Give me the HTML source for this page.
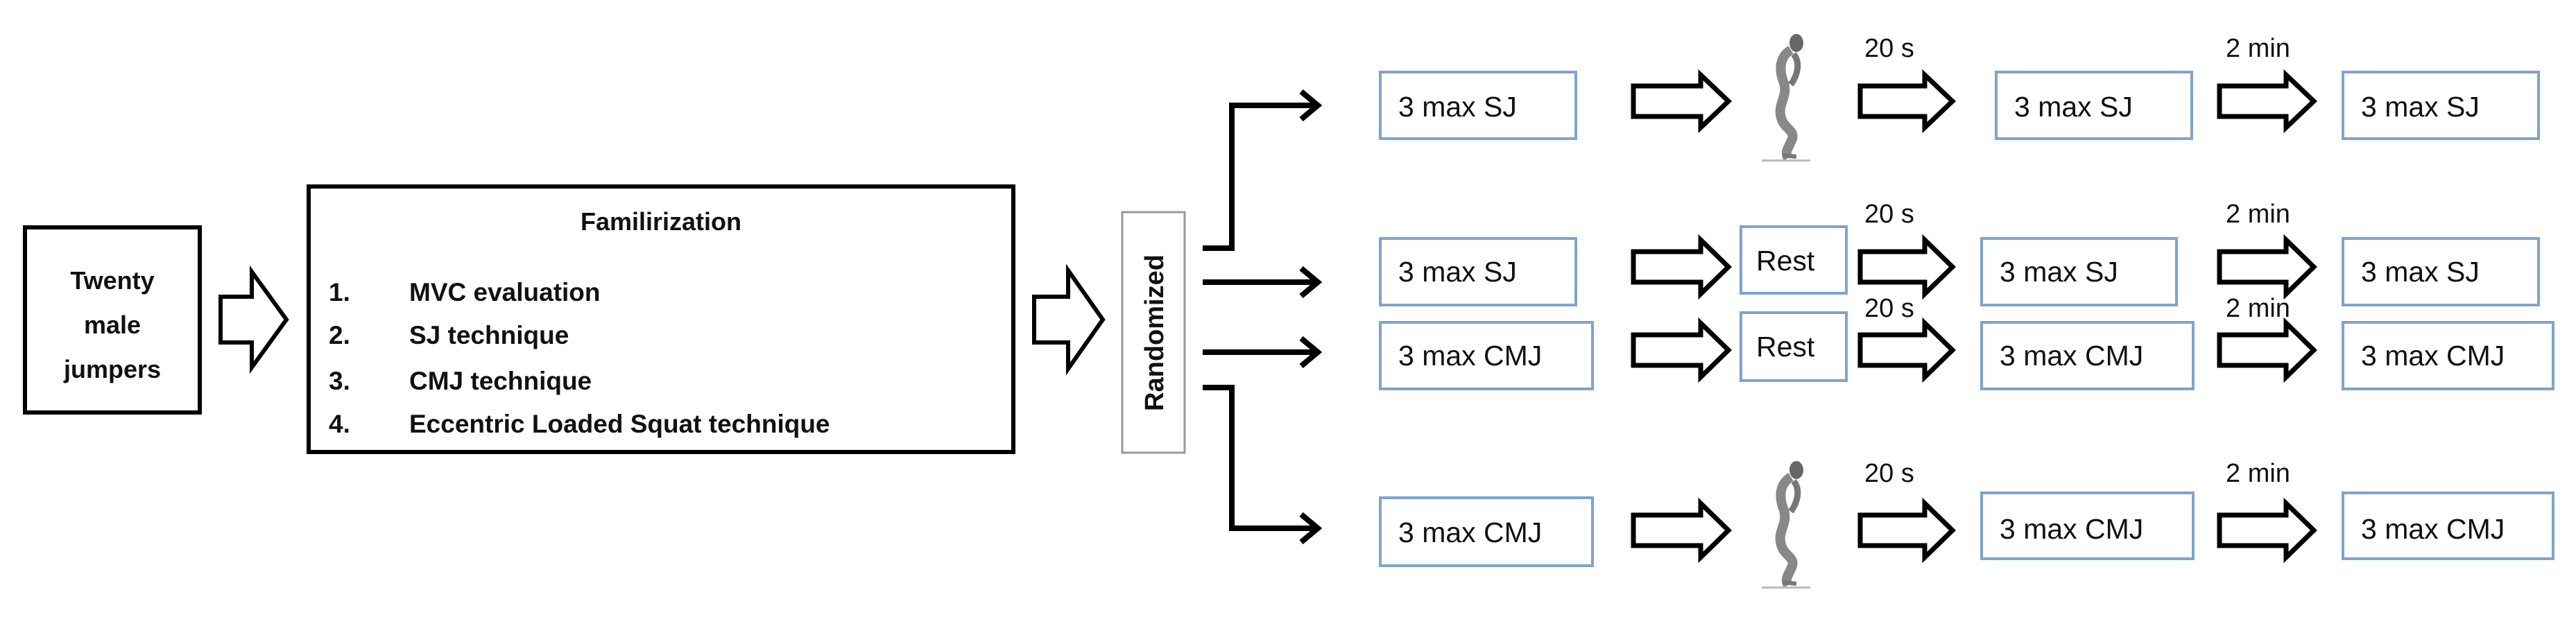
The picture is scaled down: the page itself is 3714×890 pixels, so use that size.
<!DOCTYPE html>
<html><head><meta charset="utf-8"><style>
html,body{margin:0;padding:0;background:#fff;}
svg{display:block;}
text{font-family:"Liberation Sans",sans-serif;fill:#111;}
</style></head><body>
<svg width="3714" height="890" viewBox="0 0 3714 890" xmlns="http://www.w3.org/2000/svg">
<defs>
<g id="fig" fill="#999" stroke="none">
  <ellipse cx="60" cy="14" rx="10" ry="13" fill="#666"/>
  <path d="M52 24 C36 34 34 52 42 72 C48 92 32 102 38 122 C42 137 58 140 54 152 C50 164 42 170 48 180" stroke="#888" stroke-width="14" fill="none"/>
  <path d="M56 30 C66 42 62 60 52 74" stroke="#777" stroke-width="9" fill="none"/>
  <path d="M40 176 L60 178" stroke="#777" stroke-width="6" fill="none"/>
  <rect x="10" y="182" width="70" height="3" fill="#bbb"/>
</g>
</defs>

<rect x="36" y="328" width="252" height="267" fill="#fff" stroke="#000" stroke-width="6"/>
<text x="162" y="417" font-size="36" font-weight="bold" text-anchor="middle">Twenty</text>
<text x="162" y="481" font-size="36" font-weight="bold" text-anchor="middle">male</text>
<text x="162" y="545" font-size="36" font-weight="bold" text-anchor="middle">jumpers</text>

<polygon points="318,428 363,428 363,392 413,461 363,530 363,494 318,494" fill="#fff" stroke="#000" stroke-width="6"/>
<polygon points="1491,428 1540,428 1540,390 1590,461 1540,532 1540,494 1491,494" fill="#fff" stroke="#000" stroke-width="6"/>

<rect x="445" y="269" width="1016" height="383" fill="#fff" stroke="#000" stroke-width="6"/>
<text x="953" y="332" font-size="36" font-weight="bold" text-anchor="middle">Familirization</text>
<g font-size="37" font-weight="bold">
<text x="474" y="434">1.</text><text x="590" y="434">MVC evaluation</text>
<text x="474" y="496">2.</text><text x="590" y="496">SJ technique</text>
<text x="474" y="562">3.</text><text x="590" y="562">CMJ technique</text>
<text x="474" y="624">4.</text><text x="590" y="624">Eccentric Loaded Squat technique</text>
</g>

<rect x="1618" y="306" width="90" height="347" fill="#fff" stroke="#999" stroke-width="3"/>
<text transform="translate(1677,480) rotate(-90)" font-size="38" font-weight="bold" text-anchor="middle">Randomized</text>

<g stroke="#000" stroke-width="8" fill="none">
<polyline points="1734,358 1776,358 1776,152 1898,152"/>
<line x1="1734" y1="407" x2="1898" y2="407"/>
<line x1="1734" y1="508" x2="1898" y2="508"/>
<polyline points="1734,559 1776,559 1776,762 1898,762"/>
<polyline points="1876,132 1900,152 1876,172"/>
<polyline points="1876,387 1900,407 1876,427"/>
<polyline points="1876,488 1900,508 1876,528"/>
<polyline points="1876,742 1900,762 1876,782"/>
</g>

<g fill="#fff" stroke="#7fa3cc" stroke-width="4">
<rect x="1990" y="104" width="282" height="96"/>
<rect x="2878" y="104" width="282" height="96"/>
<rect x="3378" y="104" width="282" height="96"/>
<rect x="1990" y="344" width="282" height="96"/>
<rect x="2510" y="327" width="152" height="96"/>
<rect x="2857" y="344" width="281" height="96"/>
<rect x="3378" y="344" width="282" height="96"/>
<rect x="1990" y="465" width="306" height="96"/>
<rect x="2510" y="451" width="152" height="98"/>
<rect x="2857" y="465" width="305" height="96"/>
<rect x="3378" y="465" width="303" height="96"/>
<rect x="1990" y="718" width="306" height="98"/>
<rect x="2857" y="711" width="305" height="95"/>
<rect x="3378" y="711" width="303" height="95"/>
</g>
<g font-size="41">
<text x="2016" y="168">3 max SJ</text>
<text x="2904" y="168">3 max SJ</text>
<text x="3404" y="168">3 max SJ</text>
<text x="2016" y="406">3 max SJ</text>
<text x="2532" y="390">Rest</text>
<text x="2883" y="406">3 max SJ</text>
<text x="3404" y="406">3 max SJ</text>
<text x="2016" y="527">3 max CMJ</text>
<text x="2532" y="514">Rest</text>
<text x="2883" y="527">3 max CMJ</text>
<text x="3404" y="527">3 max CMJ</text>
<text x="2016" y="782">3 max CMJ</text>
<text x="2883" y="777">3 max CMJ</text>
<text x="3404" y="777">3 max CMJ</text>
</g>

<g font-size="38">
<text x="2688" y="82">20 s</text><text x="3209" y="82">2 min</text>
<text x="2688" y="321">20 s</text><text x="3209" y="321">2 min</text>
<text x="2688" y="457">20 s</text><text x="3209" y="457">2 min</text>
<text x="2688" y="695">20 s</text><text x="3209" y="695">2 min</text>
</g>

<g fill="#fff" stroke="#000" stroke-width="7">
<polygon points="2355,124 2452,124 2452,108 2492,146 2452,184 2452,168 2355,168"/>
<polygon points="2682,124 2775,124 2775,108 2815,146 2775,184 2775,168 2682,168"/>
<polygon points="3200,124 3296,124 3296,108 3336,146 3296,184 3296,168 3200,168"/>
<polygon points="2355,363 2452,363 2452,346 2492,385 2452,424 2452,407 2355,407"/>
<polygon points="2682,363 2775,363 2775,346 2815,385 2775,424 2775,407 2682,407"/>
<polygon points="3200,363 3296,363 3296,346 3336,385 3296,424 3296,407 3200,407"/>
<polygon points="2355,483 2452,483 2452,466 2492,505 2452,544 2452,527 2355,527"/>
<polygon points="2682,483 2775,483 2775,466 2815,505 2775,544 2775,527 2682,527"/>
<polygon points="3200,483 3296,483 3296,466 3336,505 3296,544 3296,527 3200,527"/>
<polygon points="2355,743 2452,743 2452,726 2492,765 2452,804 2452,787 2355,787"/>
<polygon points="2682,743 2775,743 2775,726 2815,765 2775,804 2775,787 2682,787"/>
<polygon points="3200,743 3296,743 3296,726 3336,765 3296,804 3296,787 3200,787"/>
</g>

<use href="#fig" transform="translate(2530,48)"/>
<use href="#fig" transform="translate(2530,664)"/>
</svg>
</body></html>
